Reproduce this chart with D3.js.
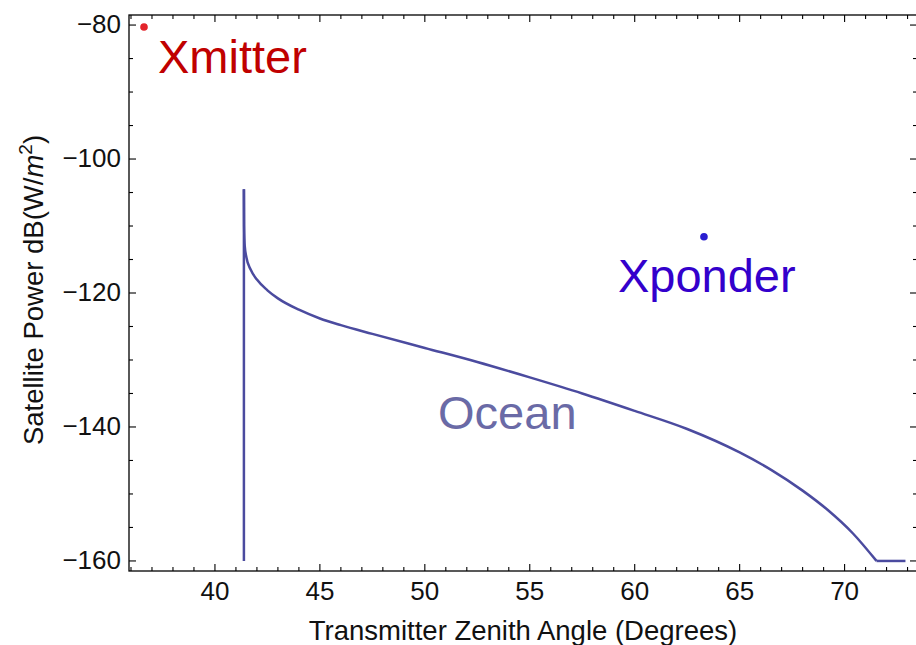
<!DOCTYPE html>
<html>
<head>
<meta charset="utf-8">
<script src="https://cdn.jsdelivr.net/npm/d3@7"></script>
<style>
  body { margin: 0; background: #fff; }
  svg { display: block; font-family: "Liberation Sans", Arial, sans-serif; }
  .tick-label { font-size: 26px; fill: #111; }
  .axis-title { font-size: 27.5px; fill: #111; }
  .note { font-size: 47px; }
</style>
</head>
<body>
<svg id="chart" width="916" height="645"></svg>
<script>
/* global d3 */
const PLOT = { left: 129, right: 917, top: 15, bottom: 571 };

// ocean curve (degrees, dB(W/m^2))
const oceanAngle = [41.38, 41.39, 41.42, 41.5, 41.7, 42.0, 42.5, 43.0, 44.0, 45.0,
  46.0, 47.5, 50, 52.5, 55, 57.5, 60, 62.5, 65, 66.5,
  68, 69.2, 70.4, 71.52];
const oceanPower = [-104.5, -110, -113.0, -114.7, -116.5, -118.0, -119.6, -120.8, -122.5, -123.8,
  -124.8, -126.1, -128.2, -130.3, -132.6, -135.0, -137.6, -140.3, -143.8, -146.4,
  -149.5, -152.4, -155.9, -160];
// vertical jump and the floor at the end
const oceanDropAngle = [41.38, 41.38];
const oceanDropPower = [-160, -104.5];
const oceanFloorAngle = [71.52, 72.9];
const oceanFloorPower = [-160, -160];

// single points
const pointNames = ['Xmitter', 'Xponder'];
const pointAngle = [36.62, 63.3];
const pointPower = [-80.3, -111.6];

const xTicks = [40, 45, 50, 55, 60, 65, 70];
const yTicks = [-80, -100, -120, -140, -160];

const COLORS = {
  ocean: '#4b4b9f',
  oceanText: '#6a6aa6',
  Xmitter: { dot: '#e3242b', text: '#c00000' },
  Xponder: { dot: '#2a1ed0', text: '#3300cc' }
};

const $svg = d3.select('#chart');

const scaleX = d3.scaleLinear().domain([35.905, 73.45]).range([PLOT.left, PLOT.right]);
const scaleY = d3.scaleLinear().domain([-161.5, -78.5]).range([PLOT.bottom, PLOT.top]);

const zip = (xs, ys) => xs.map((x, i) => [x, ys[i]]);

// frame and ticks
function drawFrame() {
  const $g = $svg.append('g').attr('class', 'frame');
  $g.append('rect')
    .attr('x', PLOT.left).attr('y', PLOT.top)
    .attr('width', PLOT.right - PLOT.left).attr('height', PLOT.bottom - PLOT.top)
    .attr('fill', 'none').attr('stroke', '#000').attr('stroke-width', 1.3);

  const xMinor = d3.range(36, 74, 1);
  const yMinor = d3.range(-160, -78, 5);
  const len = v => (v % 5 === 0 ? 7 : 4);
  const lenY = v => (v % 20 === 0 ? 7 : 4);

  // bottom + top
  [[PLOT.bottom, -1], [PLOT.top, 1]].forEach(([y0, dir]) => {
    $g.selectAll(null).data(xMinor).join('line')
      .attr('x1', d => scaleX(d)).attr('x2', d => scaleX(d))
      .attr('y1', y0).attr('y2', d => y0 + dir * len(d))
      .attr('stroke', '#000').attr('stroke-width', 1.1);
  });
  // left + right
  [[PLOT.left, 1], [PLOT.right, -1]].forEach(([x0, dir]) => {
    $g.selectAll(null).data(yMinor).join('line')
      .attr('y1', d => scaleY(d)).attr('y2', d => scaleY(d))
      .attr('x1', x0).attr('x2', d => x0 + dir * lenY(d))
      .attr('stroke', '#000').attr('stroke-width', 1.1);
  });

  $g.selectAll('text.xl').data(xTicks).join('text')
    .attr('class', 'tick-label xl')
    .attr('x', d => scaleX(d)).attr('y', 600)
    .attr('text-anchor', 'middle')
    .text(d => d);

  $g.selectAll('text.yl').data(yTicks).join('text')
    .attr('class', 'tick-label yl')
    .attr('x', PLOT.left - 8).attr('y', d => scaleY(d))
    .attr('dy', '0.3em')
    .attr('text-anchor', 'end')
    .text(d => d3.format('d')(d));

  $svg.append('text')
    .attr('class', 'axis-title')
    .attr('x', (PLOT.left + PLOT.right) / 2).attr('y', 640)
    .attr('text-anchor', 'middle')
    .text('Transmitter Zenith Angle (Degrees)');

  const $yt = $svg.append('text')
    .attr('class', 'axis-title')
    .attr('font-size', '28.5px')
    .attr('transform', `translate(43,${(PLOT.top + PLOT.bottom) / 2 - 3}) rotate(-90)`)
    .attr('text-anchor', 'middle');
  $yt.append('tspan').text('Satellite Power dB(W/');
  $yt.append('tspan').attr('font-style', 'italic').text('m');
  $yt.append('tspan').attr('font-size', '19px').attr('dy', '-11').text('2');
  $yt.append('tspan').attr('dy', '11').text(')');
}

function drawOcean() {
  const line = d3.line().x(d => scaleX(d[0])).y(d => scaleY(d[1]));
  const smooth = d3.line().x(d => scaleX(d[0])).y(d => scaleY(d[1])).curve(d3.curveMonotoneX);
  const $g = $svg.append('g').attr('class', 'ocean')
    .attr('fill', 'none').attr('stroke', COLORS.ocean)
    .attr('stroke-width', 2.5).attr('stroke-linejoin', 'round');

  $g.append('path').attr('d', line(zip(oceanDropAngle, oceanDropPower)));
  $g.append('path').attr('d', smooth(zip(oceanAngle, oceanPower)));
  $g.append('path').attr('d', line(zip(oceanFloorAngle, oceanFloorPower)));

  $svg.append('text')
    .attr('class', 'note')
    .attr('x', scaleX(50.63)).attr('y', scaleY(-140.3))
    .attr('fill', COLORS.oceanText)
    .text('Ocean');
}

function drawPoints() {
  const offsets = { Xmitter: [14, 46], Xponder: [-86, 55] };
  pointNames.forEach((name, i) => {
    const cx = scaleX(pointAngle[i]);
    const cy = scaleY(pointPower[i]);
    $svg.append('circle')
      .attr('cx', cx).attr('cy', cy).attr('r', 3.8)
      .attr('fill', COLORS[name].dot);
    $svg.append('text')
      .attr('class', 'note')
      .attr('x', cx + offsets[name][0]).attr('y', cy + offsets[name][1])
      .attr('fill', COLORS[name].text)
      .text(name);
  });
}

drawFrame();
drawOcean();
drawPoints();
</script>
</body>
</html>
